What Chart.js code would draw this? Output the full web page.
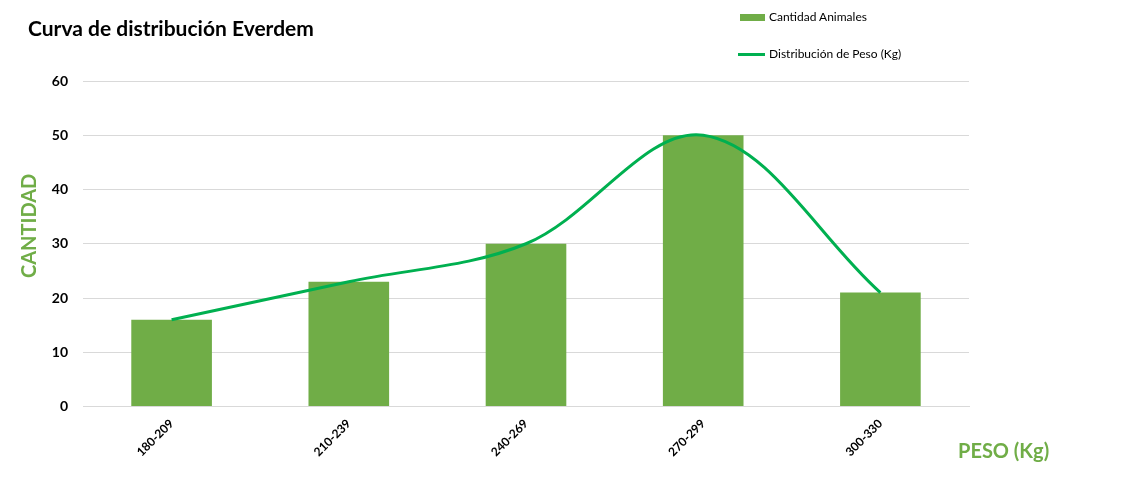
<!DOCTYPE html>
<html>
<head>
<meta charset="utf-8">
<script src="https://cdn.jsdelivr.net/npm/chart.js@4/dist/chart.umd.min.js"></script>
<style>
  html, body { margin: 0; padding: 0; background: #fff; }
  #wrap { position: relative; width: 1140px; height: 482px; font-family: Lato, "Open Sans", sans-serif; }
  #chart { position: absolute; left: 0; top: 0; }
  .title { position: absolute; left: 28px; top: 15px; font-size: 21px; font-weight: bold; color: #000; }
  .legend { position: absolute; left: 738px; font-size: 12px; color: #000; }
  .legend .sw { display: inline-block; vertical-align: middle; width: 27px; margin-right: 4px; }
  .axisT { position: absolute; font-size: 20px; font-weight: bold; color: #70AD47; }
</style>
</head>
<body>
<div id="wrap">
  <canvas id="chart" width="1140" height="482"></canvas>
  <div class="title">Curva de distribución Everdem</div>
  <div class="legend" style="top:9px"><span class="sw" style="height:7px;background:#70AD47;margin-left:2px;width:25px"></span>Cantidad Animales</div>
  <div class="legend" style="top:46px"><span class="sw" style="height:3px;background:#00B050"></span>Distribución de Peso (Kg)</div>
  <div class="axisT" style="left:-22px;top:216px;transform:rotate(-90deg);width:100px;text-align:center">CANTIDAD</div>
  <div class="axisT" style="left:958px;top:438px">PESO (Kg)</div>
</div>
<script>
// datos
var categorias = ["180-209", "210-239", "240-269", "270-299", "300-330"];
var cantidadAnimales = [16, 23, 30, 50, 21];
var distribucionPeso = [16, 23, 30, 50, 21];
var yTicks = [0, 10, 20, 30, 40, 50, 60];

var ctx = document.getElementById("chart");
var chart = new Chart(ctx, {
    type: 'bar',
    data: {
        labels: categorias,
        datasets: [{
            type: 'line',
            label: 'Distribución de Peso (Kg)',
            data: distribucionPeso,
            borderColor: '#00B050',
            borderWidth: 3,
            pointRadius: 0,
            tension: 0.35,
            fill: false,
            order: 0
        }, {
            label: 'Cantidad Animales',
            data: cantidadAnimales,
            backgroundColor: '#70AD47',
            barPercentage: 0.455,
            categoryPercentage: 1,
            order: 1
        }]
    },
    options: {
        responsive: false,
        animation: false,
        layout: { padding: { left: 0, top: 81, right: 171, bottom: 0 } },
        plugins: {
            legend: { display: false },
            title: { display: false },
            tooltip: { enabled: false }
        },
        scales: {
            x: {
                grid: { display: false, drawTicks: false },
                border: { color: '#d9d9d9', width: 1 },
                ticks: {
                    color: '#000',
                    font: { family: 'Lato', size: 12, weight: 'bold' },
                    maxRotation: 45,
                    minRotation: 45,
                    padding: 10
                },
                afterFit: function (scale) { scale.height = 75.5; }
            },
            y: {
                min: 0,
                max: 60,
                afterBuildTicks: function (scale) {
                    scale.ticks = yTicks.map(v => ({ value: v }));
                },
                grid: { color: '#d9d9d9', drawTicks: false },
                border: { display: false },
                ticks: {
                    color: '#000',
                    font: { family: 'Lato', size: 14, weight: 'bold' },
                    padding: 15
                },
                afterFit: function (scale) { scale.width = 83; }
            }
        }
    }
});
</script>
</body>
</html>
